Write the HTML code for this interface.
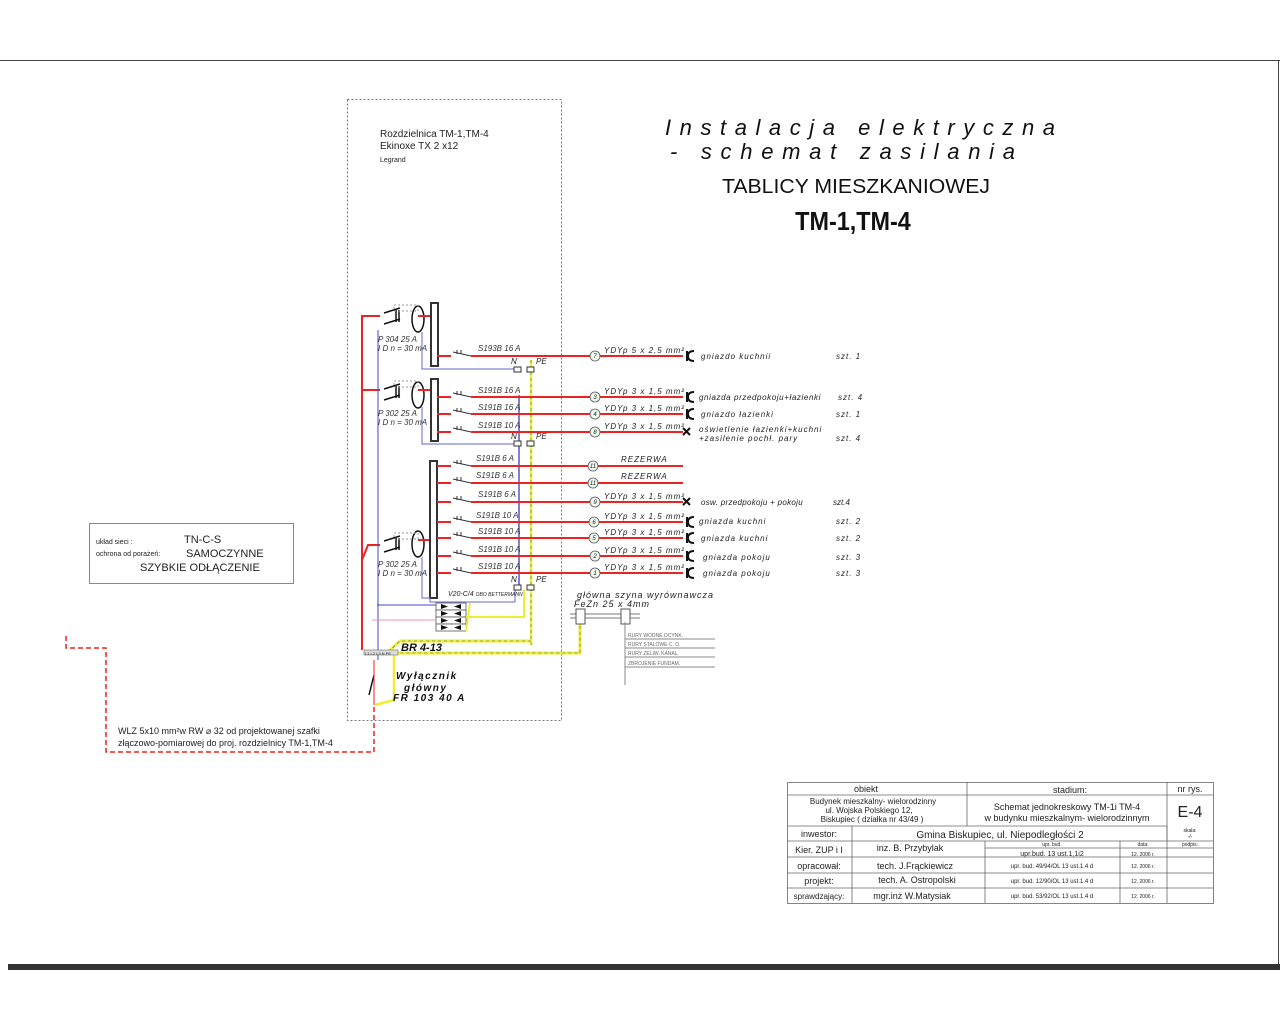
<!DOCTYPE html>
<html><head><meta charset="utf-8"><style>
html,body{margin:0;padding:0;background:#fff;width:1280px;height:1024px;overflow:hidden}
svg{display:block}
text{font-family:"Liberation Sans",sans-serif}
.i{font-style:italic;font-size:8px;fill:#333}
.s{font-size:8px;font-style:italic;letter-spacing:1px;fill:#222}
.t{font-size:9px;fill:#222}
</style></head><body>
<svg width="1280" height="1024" viewBox="0 0 1280 1024">
<line x1="0" y1="60.5" x2="1280" y2="60.5" stroke="#444" stroke-width="1"/>
<line x1="1278.5" y1="60" x2="1278.5" y2="965" stroke="#444"/>
<rect x="8" y="964" width="1272" height="6" fill="#333"/>
<rect x="347.5" y="99.5" width="214" height="621" fill="none" stroke="#777" stroke-dasharray="2,2"/>
<text x="380" y="137" font-size="10" fill="#222">Rozdzielnica TM-1,TM-4</text>
<text x="380" y="149" font-size="10" fill="#222">Ekinoxe TX 2 x12</text>
<text x="380" y="162" font-size="7" fill="#222">Legrand</text>
<text x="665" y="135" font-size="22" font-style="italic" textLength="390" lengthAdjust="spacing" fill="#111">Instalacja elektryczna</text>
<text x="670" y="159" font-size="22" font-style="italic" textLength="345" lengthAdjust="spacing" fill="#111">- schemat  zasilania</text>
<text x="722" y="193" font-size="20" textLength="268" lengthAdjust="spacingAndGlyphs" fill="#111">TABLICY MIESZKANIOWEJ</text>
<text x="853" y="230" font-size="26" font-weight="bold" text-anchor="middle" fill="#111" transform="translate(853 0) scale(0.9 1) translate(-853 0)">TM-1,TM-4</text>

<polyline points="362,650 362,316 380,316" fill="none" stroke="#e22" stroke-width="2"/>
<line x1="362" y1="390" x2="380" y2="390" stroke="#e22" stroke-width="2"/>
<polyline points="362,560 368,545 380,545" fill="none" stroke="#e22" stroke-width="2"/>
<polyline points="378,330 378,660" fill="none" stroke="#44c" stroke-width="1"/>
<g fill="none" stroke="#111" stroke-width="1.5">
<path d="M384 313 L400 308 M384 324 L400 319 M396 310 v12 M399 310 v12"/><ellipse cx="418" cy="319" rx="6" ry="13"/>
<path d="M384 389 L400 384 M384 400 L400 395 M396 386 v12 M399 386 v12"/><ellipse cx="418" cy="395" rx="6" ry="13"/>
<path d="M384 541 L400 536 M384 552 L400 547 M396 538 v12 M399 538 v12"/><ellipse cx="418" cy="544" rx="6" ry="13"/>
</g>
<g stroke="#999" stroke-dasharray="2,2" fill="none"><rect x="394" y="305" width="24" height="6"/><rect x="394" y="381" width="24" height="6"/><rect x="394" y="533" width="24" height="6"/></g>
<g stroke="#e22" stroke-width="2"><line x1="418" y1="316" x2="431" y2="316"/><line x1="418" y1="390" x2="431" y2="390"/><line x1="418" y1="540" x2="431" y2="540"/></g>
<g fill="none" stroke="#333" stroke-width="2"><rect x="431" y="303" width="7" height="63"/><rect x="431" y="379" width="7" height="62"/><rect x="430" y="461" width="7" height="137"/></g>
<g class="i"><text x="378" y="342">P 304   25 A</text><text x="378" y="351">I D n = 30 mA</text>
<text x="378" y="416">P 302   25 A</text><text x="378" y="425">I D n = 30 mA</text>
<text x="378" y="567">P 302   25 A</text><text x="378" y="576">I D n = 30 mA</text></g>
<g stroke="#66c" fill="none"><polyline points="422,332 422,369 515,369"/><polyline points="422,407 422,444 515,444"/><polyline points="422,557 422,598 430,598 430,602 515,602 515,590"/></g>
<line x1="519" y1="395" x2="519" y2="590" stroke="#55c" stroke-width="1.5"/>
<line x1="531" y1="360" x2="531" y2="645" stroke="#ee3" stroke-width="2.5"/>
<line x1="531" y1="360" x2="531" y2="645" stroke="#474" stroke-width="0.6" stroke-dasharray="3,3"/>
<g fill="#fff" stroke="#333"><rect x="514" y="367" width="7" height="5"/><rect x="527" y="367" width="7" height="5"/><rect x="514" y="441" width="7" height="5"/><rect x="527" y="441" width="7" height="5"/><rect x="514" y="585" width="7" height="5"/><rect x="527" y="585" width="7" height="5"/></g>
<g font-size="8" font-style="italic" fill="#222"><text x="511" y="364">N</text><text x="536" y="364">PE</text><text x="511" y="439">N</text><text x="536" y="439">PE</text><text x="511" y="582">N</text><text x="536" y="582">PE</text></g>

<g id="rows">
<g stroke="#e22" stroke-width="2">
<line x1="437" y1="356" x2="683" y2="356"/><line x1="437" y1="397" x2="683" y2="397"/><line x1="437" y1="414" x2="683" y2="414"/><line x1="437" y1="432" x2="683" y2="432"/><line x1="437" y1="466" x2="683" y2="466"/><line x1="437" y1="483" x2="683" y2="483"/><line x1="437" y1="502" x2="683" y2="502"/><line x1="437" y1="522" x2="683" y2="522"/><line x1="437" y1="538" x2="683" y2="538"/><line x1="437" y1="556" x2="683" y2="556"/><line x1="437" y1="573" x2="683" y2="573"/>
</g>
<g fill="#fff" stroke="none"><rect x="451" y="350" width="20" height="8"/><rect x="451" y="391" width="20" height="8"/><rect x="451" y="408" width="20" height="8"/><rect x="451" y="426" width="20" height="8"/><rect x="451" y="460" width="20" height="8"/><rect x="451" y="477" width="20" height="8"/><rect x="451" y="496" width="20" height="8"/><rect x="451" y="516" width="20" height="8"/><rect x="451" y="532" width="20" height="8"/><rect x="451" y="550" width="20" height="8"/><rect x="451" y="567" width="20" height="8"/></g>
<g stroke="#333" fill="none"><path d="M453 352 l18 4 M457 350 v4 M461 350 v4"/><path d="M453 393 l18 4 M457 391 v4 M461 391 v4"/><path d="M453 410 l18 4 M457 408 v4 M461 408 v4"/><path d="M453 428 l18 4 M457 426 v4 M461 426 v4"/><path d="M453 462 l18 4 M457 460 v4 M461 460 v4"/><path d="M453 479 l18 4 M457 477 v4 M461 477 v4"/><path d="M453 498 l18 4 M457 496 v4 M461 496 v4"/><path d="M453 518 l18 4 M457 516 v4 M461 516 v4"/><path d="M453 534 l18 4 M457 532 v4 M461 532 v4"/><path d="M453 552 l18 4 M457 550 v4 M461 550 v4"/><path d="M453 569 l18 4 M457 567 v4 M461 567 v4"/></g>
<g class="i"><text x="478" y="351">S193B 16 A</text><text x="478" y="393">S191B 16 A</text><text x="478" y="410">S191B 16 A</text><text x="478" y="428">S191B 10 A</text><text x="476" y="461">S191B 6 A</text><text x="476" y="478">S191B 6 A</text><text x="478" y="497">S191B 6 A</text><text x="476" y="518">S191B 10 A</text><text x="478" y="534">S191B 10 A</text><text x="478" y="552">S191B 10 A</text><text x="478" y="569">S191B 10 A</text></g>
<g fill="#eef8ee" stroke="#555" stroke-width="0.8"><circle cx="595" cy="356" r="5"/><circle cx="595" cy="397" r="5"/><circle cx="595" cy="414" r="5"/><circle cx="595" cy="432" r="5"/><circle cx="593" cy="466" r="5"/><circle cx="593" cy="483" r="5"/><circle cx="595" cy="502" r="5"/><circle cx="594" cy="522" r="5"/><circle cx="594" cy="538" r="5"/><circle cx="595" cy="556" r="5"/><circle cx="595" cy="573" r="5"/></g>
<g font-size="6" font-style="italic" text-anchor="middle" fill="#222"><text x="595" y="358">7</text><text x="595" y="399">3</text><text x="595" y="416">4</text><text x="595" y="434">8</text><text x="593" y="468">11</text><text x="593" y="485">11</text><text x="595" y="504">9</text><text x="594" y="524">6</text><text x="594" y="540">5</text><text x="595" y="558">2</text><text x="595" y="575">1</text></g>
<g class="s"><text x="604" y="353">YDYp  5 x 2,5 mm²</text><text x="604" y="394">YDYp  3 x 1,5 mm²</text><text x="604" y="411">YDYp  3 x 1,5 mm²</text><text x="604" y="429">YDYp  3 x 1,5 mm²</text><text x="621" y="462">REZERWA</text><text x="621" y="479">REZERWA</text><text x="604" y="499">YDYp  3 x 1,5 mm²</text><text x="604" y="519">YDYp  3 x 1,5 mm²</text><text x="604" y="535">YDYp  3 x 1,5 mm²</text><text x="604" y="553">YDYp  3 x 1,5 mm²</text><text x="604" y="570">YDYp  3 x 1,5 mm²</text></g>
<g stroke="#111" stroke-width="2" fill="none">
<path d="M687 351 v10 M694 351 q-6 0 -6 5 q0 5 6 5"/><path d="M687 392 v10 M694 392 q-6 0 -6 5 q0 5 6 5"/><path d="M687 409 v10 M694 409 q-6 0 -6 5 q0 5 6 5"/>
<path d="M683 428 l7 7 M690 428 l-7 7"/><path d="M683 498 l7 7 M690 498 l-7 7"/>
<path d="M687 517 v10 M694 517 q-6 0 -6 5 q0 5 6 5"/><path d="M687 533 v10 M694 533 q-6 0 -6 5 q0 5 6 5"/><path d="M687 551 v10 M694 551 q-6 0 -6 5 q0 5 6 5"/><path d="M687 568 v10 M694 568 q-6 0 -6 5 q0 5 6 5"/>
</g>
<g class="s" font-size="7"><text x="701" y="359">gniazdo kuchnii</text><text x="836" y="359">szt. 1</text>
<text x="699" y="400" letter-spacing="0.6">gniazda przedpokoju+łazienki</text><text x="838" y="400">szt. 4</text>
<text x="701" y="417">gniazdo łazienki</text><text x="836" y="417">szt. 1</text>
<text x="699" y="432">oświetlenie łazienki+kuchni</text><text x="699" y="441">+zasilenie pochł. pary</text><text x="836" y="441">szt. 4</text>
<text x="701" y="505" letter-spacing="0.3">osw. przedpokoju + pokoju</text><text x="833" y="505" letter-spacing="0">szt.4</text>
<text x="699" y="524">gniazda kuchni</text><text x="836" y="524">szt. 2</text>
<text x="701" y="541">gniazda kuchni</text><text x="836" y="541">szt. 2</text>
<text x="703" y="560">gniazda pokoju</text><text x="836" y="560">szt. 3</text>
<text x="703" y="576">gniazda pokoju</text><text x="836" y="576">szt. 3</text></g>
</g>

<g stroke="#555" fill="#fff" stroke-width="0.8"><rect x="436" y="603" width="30" height="7"/><rect x="436" y="610" width="30" height="7"/><rect x="436" y="617" width="30" height="7"/><rect x="436" y="624" width="30" height="7"/></g>
<g fill="#111"><path d="M441 604 l7 2.5 -7 2.5z M461 604 l-7 2.5 7 2.5z M441 611 l7 2.5 -7 2.5z M461 611 l-7 2.5 7 2.5z M441 618 l7 2.5 -7 2.5z M461 618 l-7 2.5 7 2.5z M441 625 l7 2.5 -7 2.5z M461 625 l-7 2.5 7 2.5z"/></g>
<text x="448" y="596" font-size="7" font-style="italic" fill="#222">V20-C/4 <tspan font-size="5">OBO BETTERMANN</tspan></text>
<polyline points="377,605 436,605" stroke="#44c" fill="none"/>
<polyline points="372,620 436,620" stroke="#e99" fill="none"/>
<polyline points="466,617 524,617 524,590" stroke="#ee3" stroke-width="2" fill="none"/>
<polyline points="466,631 470,603" stroke="#ee3" stroke-width="2" fill="none"/>
<polyline points="531,641 400,641 387,653 580,653 580,615" stroke="#ee3" stroke-width="3" fill="none"/>
<polyline points="531,641 400,641 387,653 580,653 580,615" stroke="#555" stroke-width="0.6" stroke-dasharray="3,3" fill="none"/>
<polyline points="394,653 394,700 375,705" stroke="#ee3" stroke-width="2.5" fill="none"/>
<rect x="364" y="650" width="34" height="5" fill="#ddd" stroke="#555" stroke-width="0.5"/>
<text x="365" y="655" font-size="4" fill="#222">L1 L2 L3 N PE</text>
<text x="401" y="651" font-size="11" font-weight="bold" font-style="italic" fill="#111">BR 4-13</text>
<line x1="369" y1="695" x2="374" y2="675" stroke="#111" stroke-width="1.5"/>
<line x1="374" y1="660" x2="374" y2="705" stroke="#e22" stroke-width="1"/>
<g font-size="10" font-weight="bold" font-style="italic" fill="#111" letter-spacing="1.5"><text x="396" y="679">Wyłącznik</text><text x="404" y="691">główny</text><text x="393" y="701">FR 103 40 A</text></g>
<polyline points="66,636 66,648 106,648 106,752 374,752 374,706" fill="none" stroke="#e22" stroke-width="1.5" stroke-dasharray="5,3"/>
<text x="118" y="734" font-size="9" fill="#222">WLZ 5x10 mm²w RW  ⌀ 32 od projektowanej szafki</text>
<text x="118" y="746" font-size="9" fill="#222">złączowo-pomiarowej do proj. rozdzielnicy TM-1,TM-4</text>
<text x="577" y="598" font-size="9" font-style="italic" letter-spacing="1" fill="#222">główna szyna wyrównawcza</text>
<text x="574" y="607" font-size="9" font-style="italic" letter-spacing="1" fill="#222">FeZn 25 x 4mm</text>
<line x1="570" y1="616" x2="640" y2="616" stroke="#777" stroke-width="5"/>
<line x1="570" y1="616" x2="640" y2="616" stroke="#fff" stroke-width="3"/>
<rect x="576" y="609" width="9" height="15" fill="#fff" stroke="#555"/><rect x="621" y="609" width="9" height="15" fill="#fff" stroke="#555"/>
<line x1="625" y1="622" x2="625" y2="685" stroke="#888"/>
<g stroke="#888"><line x1="625" y1="639" x2="715" y2="639"/><line x1="625" y1="648" x2="715" y2="648"/><line x1="625" y1="657" x2="715" y2="657"/><line x1="625" y1="667" x2="715" y2="667"/></g>
<g font-size="5" fill="#666"><text x="628" y="637">RURY WODNE OCYNK.</text><text x="628" y="646">RURY STALOWE C. O.</text><text x="628" y="655">RURY ZELIW. KANAL.</text><text x="628" y="665">ZBROJENIE FUNDAM.</text></g>
<rect x="89.5" y="523.5" width="204" height="60" fill="none" stroke="#888"/>
<text x="96" y="544" font-size="7" fill="#222">układ sieci :</text><text x="184" y="543" font-size="11" fill="#222">TN-C-S</text>
<text x="96" y="556" font-size="7" fill="#222">ochrona od porażeń:</text><text x="186" y="557" font-size="11" fill="#222">SAMOCZYNNE</text>
<text x="140" y="571" font-size="11" fill="#222">SZYBKIE ODŁĄCZENIE</text>
<g fill="none" stroke="#666" stroke-width="0.8">
<rect x="787.5" y="782.5" width="426" height="121"/>
<line x1="787" y1="795" x2="1213" y2="795"/><line x1="787" y1="826" x2="1167" y2="826"/><line x1="787" y1="841" x2="1213" y2="841"/><line x1="787" y1="857" x2="1213" y2="857"/><line x1="787" y1="873" x2="1213" y2="873"/><line x1="787" y1="888" x2="1213" y2="888"/>
<line x1="967" y1="782" x2="967" y2="826"/><line x1="1167" y1="782" x2="1167" y2="903"/><line x1="852" y1="826" x2="852" y2="903"/><line x1="985" y1="841" x2="985" y2="903"/><line x1="1120" y1="841" x2="1120" y2="903"/>
<line x1="985" y1="848" x2="1213" y2="848"/><line x1="1167" y1="826" x2="1167" y2="841"/>
</g>
<g fill="#222" text-anchor="middle">
<text x="866" y="792" font-size="9">obiekt</text><text x="1070" y="793" font-size="9">stadium:</text><text x="1190" y="792" font-size="9">nr  rys.</text>
<text x="873" y="804" font-size="8">Budynek mieszkalny- wielorodzinny</text><text x="869" y="813" font-size="8">ul. Wojska Polskiego 12,</text><text x="872" y="822" font-size="8">Biskupiec  ( działka nr 43/49 )</text>
<text x="1067" y="810" font-size="9">Schemat  jednokreskowy TM-1i TM-4</text><text x="1067" y="821" font-size="9">w  budynku mieszkalnym- wielorodzinnym</text>
<text x="1190" y="817" font-size="16">E-4</text>
<text x="819" y="837" font-size="9">inwestor:</text><text x="1000" y="838" font-size="10">Gmina Biskupiec, ul. Niepodległości 2</text>
<text x="1190" y="832" font-size="5">skala:</text><text x="1190" y="838" font-size="5">-/-</text>
<text x="1052" y="846" font-size="5">upr. bud.</text><text x="1143" y="846" font-size="5">data:</text><text x="1190" y="846" font-size="5">podpis:</text>
<text x="819" y="853" font-size="9">Kier. ZUP i I</text><text x="910" y="851" font-size="9">inz.  B. Przybylak</text><text x="1052" y="856" font-size="7">upr.bud.    13 ust.1,1i2</text><text x="1143" y="856" font-size="5">12. 2006 r.</text>
<text x="819" y="869" font-size="9">opracował:</text><text x="915" y="869" font-size="9">tech. J.Frąckiewicz</text><text x="1052" y="868" font-size="6">upr. bud. 49/94/OL  13 ust.1.4 d</text><text x="1143" y="868" font-size="5">12. 2006 r.</text>
<text x="819" y="884" font-size="9">projekt:</text><text x="917" y="883" font-size="9">tech. A. Ostropolski</text><text x="1052" y="883" font-size="6">upr. bud. 12/90/OL  13 ust.1.4 d</text><text x="1143" y="883" font-size="5">12. 2006 r.</text>
<text x="819" y="899" font-size="8">sprawdzający:</text><text x="912" y="899" font-size="9">mgr.inż W.Matysiak</text><text x="1052" y="898" font-size="6">upr. bud. 53/92/OL  13 ust.1.4 d</text><text x="1143" y="898" font-size="5">12. 2006 r.</text>
</g>
</svg>
</body></html>
